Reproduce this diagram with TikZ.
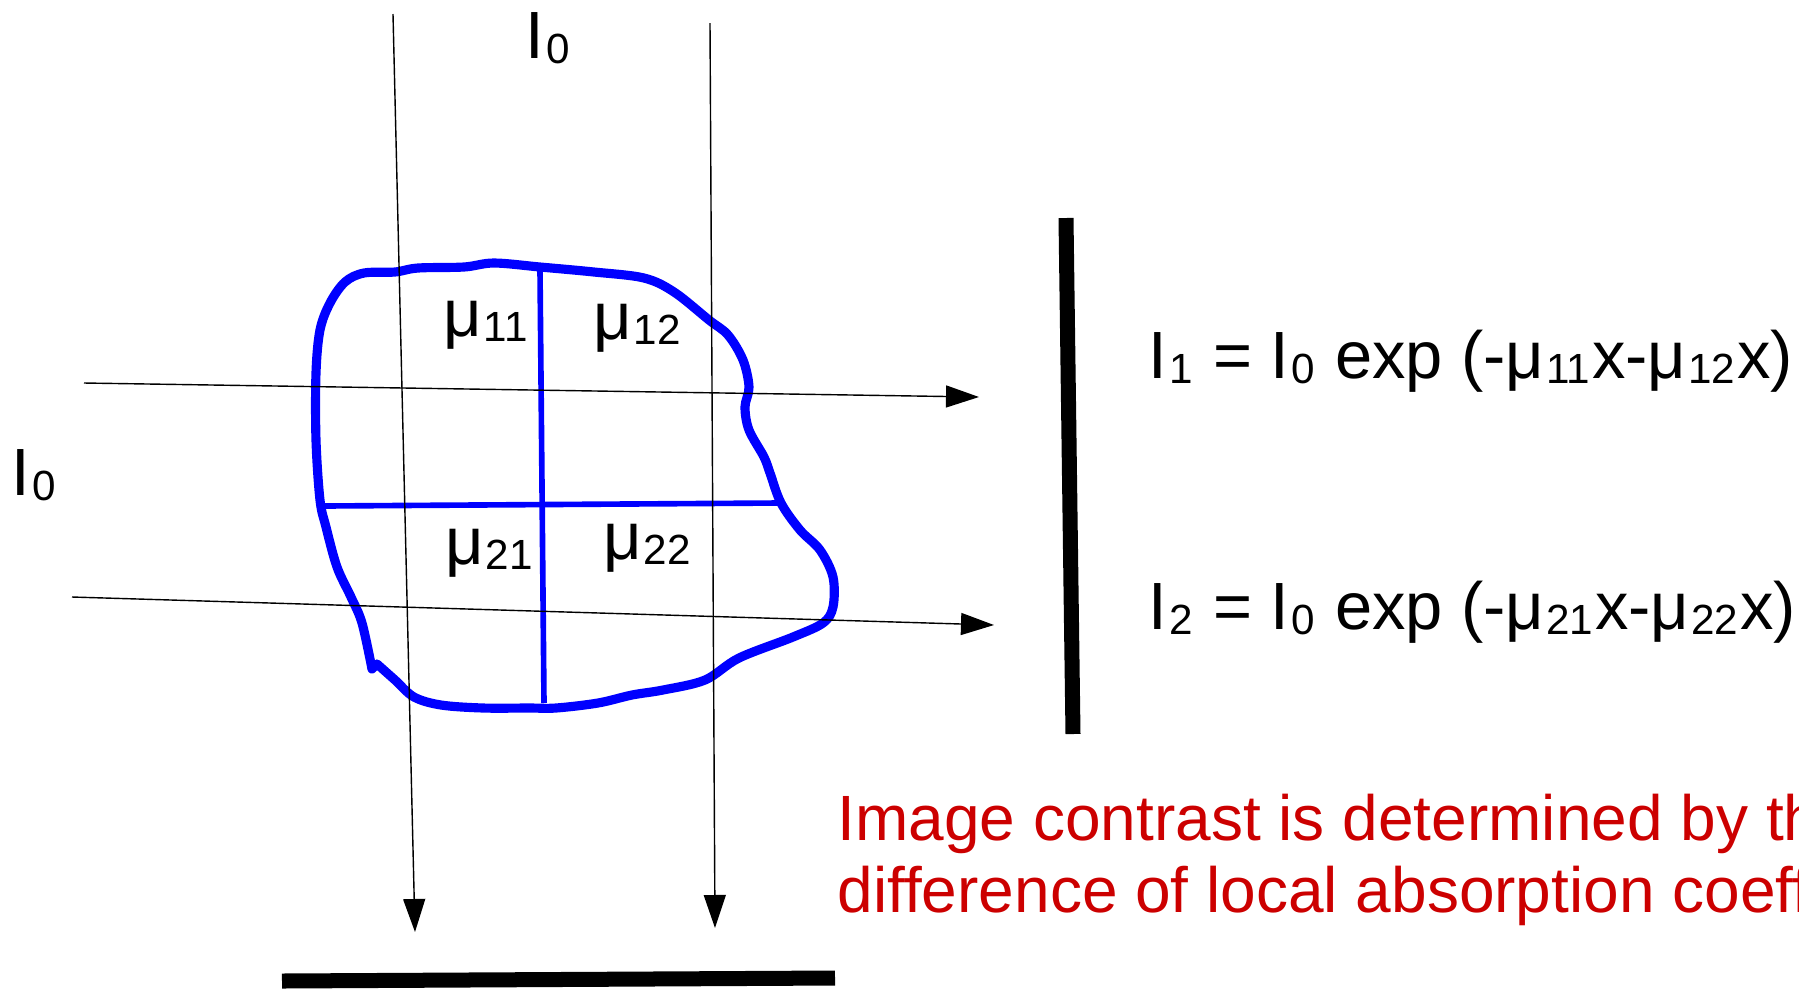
\documentclass[tikz,border=0pt]{standalone}
\usepackage{fontspec}
\setmainfont{Liberation Sans}
\usepackage{tikz}
\usetikzlibrary{arrows.meta}
\definecolor{blobBlue}{HTML}{0000FF}
\definecolor{noteRed}{HTML}{CC0000}
\newcommand{\lowidx}[1]{\kern0.5pt\relax\raisebox{-1.6pt}{\fontsize{12}{12}\selectfont #1}\kern0.6pt\relax}
\tikzset{
  outline/.style={draw=blobBlue,line width=2.6pt,line join=round},
  cellline/.style={draw=blobBlue,line width=1.6pt},
  ray/.style={draw=black,line width=0.4pt,-{Triangle[length=3.3mm,width=2.2mm]}},
  detector/.style={draw=black,line width=0.15cm},
  lbl/.style={inner sep=0pt,anchor=base west,font=\fontsize{19}{21}\selectfont},
  note/.style={inner sep=0pt,anchor=base west,text=noteRed,font=\fontsize{18.2}{21}\selectfont}
}

\begin{document}
\begin{tikzpicture}[x=0.01cm,y=-0.01cm]
\path[use as bounding box,clip] (0,0) rectangle (1799,990);

% object
\draw[outline] plot[smooth,tension=0.55] coordinates {
  (372,669) (362,623) (351,597) (337,567) (326,527) (320,500) (316,440)
  (316,373) (320,330) (330,303) (345,282) (364,273) (395,272) (418,268)
  (464,267) (494,263) (540,267) (594,272) (644,278) (674,292) (709,320)
  (728,335) (743,360) (749,387) (745,407) (749,430) (764,457) (770,473)
  (781,503) (800,530) (820,550) (833,577) (833,607) (823,623) (793,637)
  (739,658) (705,680) (663,690) (632,695) (598,703) (556,708) (529,708)
  (483,708) (441,705) (414,697) (395,680) (377,664)} -- cycle;
\coordinate (cTop) at (540,270);
\coordinate (cBot) at (544,703);
\coordinate (cLeft) at (324,506);
\coordinate (cRight) at (779,503);
\draw[cellline] (cTop) -- (cBot);
\draw[cellline] (cLeft) -- (cRight);

\node[lbl] (mu11) at (443,336) {μ\lowidx{11}};
\node[lbl] (mu12) at (593,339) {μ\lowidx{12}};
\node[lbl] (mu21) at (445,564) {μ\lowidx{21}};
\node[lbl] (mu22) at (603,559) {μ\lowidx{22}};

% beams
\coordinate (v1s) at (393,14);
\coordinate (v1e) at (415,932);
\coordinate (v2s) at (710,23);
\coordinate (v2e) at (715,928);
\coordinate (h1s) at (84,383);
\coordinate (h1e) at (979,397);
\coordinate (h2s) at (72,597);
\coordinate (h2e) at (994,625);
\draw[ray] (v1s) -- (v1e);
\draw[ray] (v2s) -- (v2e);
\draw[ray] (h1s) -- (h1e);
\draw[ray] (h2s) -- (h2e);

\node[lbl] (srcTop) at (525,58) {I\lowidx{0}};
\node[lbl] (srcLeft) at (11,495) {I\lowidx{0}};

% detectors
\coordinate (detRt) at (1066,218);
\coordinate (detRb) at (1073,734);
\coordinate (detBl) at (282,981);
\coordinate (detBr) at (835,978);
\draw[detector] (detRt) -- (detRb);
\draw[detector] (detBl) -- (detBr);

\node[lbl] (eqOne) at (1148,378) {I\lowidx{1} = I\lowidx{0} exp (-μ\lowidx{11}x-μ\lowidx{12}x)};
\node[lbl] (eqTwo) at (1148,629) {I\lowidx{2} = I\lowidx{0} exp (-μ\lowidx{21}x-μ\lowidx{22}x)};

\node[note] (noteA) at (837,840) {Image contrast is determined by the};
\node[note] (noteB) at (837,912) {difference of local absorption coefficients};
\end{tikzpicture}
\end{document}
